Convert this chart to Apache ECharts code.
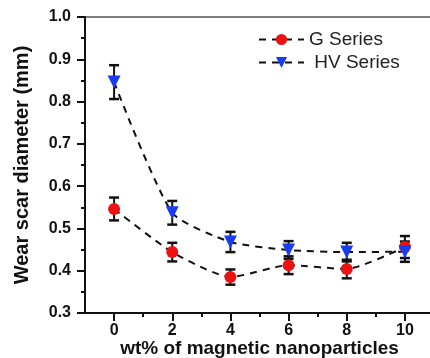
<!DOCTYPE html>
<html>
<head>
<meta charset="utf-8">
<script src="https://cdn.jsdelivr.net/npm/echarts@6/dist/echarts.min.js"></script>
<style>
  html, body { margin: 0; padding: 0; background: #fff; }
  #chart { width: 430px; height: 358px; }
</style>
</head>
<body>
<div id="chart"></div>
<script>
// wt% 磁性纳米颗粒
var loadings = [0, 2, 4, 6, 8, 10];
var gSeries = [0.546, 0.444, 0.385, 0.413, 0.404, 0.456];
var gError = [0.027, 0.022, 0.018, 0.021, 0.022, 0.026];
var hvSeries = [0.846, 0.537, 0.468, 0.449, 0.444, 0.445];
var hvError = [0.040, 0.028, 0.024, 0.021, 0.022, 0.024];
var xMajorTicks = [0, 2, 4, 6, 8, 10];
var xMinorTicks = [1, 3, 5, 7, 9];

var font = 'Liberation Sans, Arial, sans-serif';

function pairs(vals) {
  return loadings.map(function (x, i) { return [x, vals[i]]; });
}
function errRows(vals, errs) {
  return loadings.map(function (x, i) { return [x, vals[i] - errs[i], vals[i] + errs[i]]; });
}

function renderErr(params, api) {
  var x = api.value(0);
  var lo = api.coord([x, api.value(1)]);
  var hi = api.coord([x, api.value(2)]);
  var w = 5;
  var style = { stroke: '#111', lineWidth: 2 };
  var cap = { stroke: '#111', lineWidth: 2.5 };
  return {
    type: 'group',
    children: [
      { type: 'line', shape: { x1: hi[0], y1: hi[1], x2: lo[0], y2: lo[1] }, style: style },
      { type: 'line', shape: { x1: hi[0] - w, y1: hi[1], x2: hi[0] + w, y2: hi[1] }, style: cap },
      { type: 'line', shape: { x1: lo[0] - w, y1: lo[1], x2: lo[0] + w, y2: lo[1] }, style: cap }
    ]
  };
}

var chart = echarts.init(document.getElementById('chart'));
chart.setOption({
  animation: false,
  grid: {
    left: 85, right: -4, top: 17, bottom: 45,
    outerBoundsMode: 'none', containLabel: false,
    show: true, borderColor: '#555', borderWidth: 1.5
  },
  legend: {
    orient: 'vertical',
    left: 253, top: 25,
    itemWidth: 45, itemHeight: 14, itemGap: 4,
    data: ['G Series', ' HV Series'],
    textStyle: { fontFamily: font, fontSize: 19, color: '#222' }
  },
  xAxis: [
    {
      type: 'value', min: -1, max: 11, interval: 1,
      position: 'bottom',
      name: 'wt% of magnetic nanoparticles',
      nameLocation: 'middle', nameGap: 26, nameMoveOverlap: false,
      nameTextStyle: { fontFamily: font, fontSize: 19, fontWeight: 'bold', color: '#111' },
      splitLine: { show: false },
      axisLine: { show: true, onZero: false, lineStyle: { color: '#111', width: 2 } },
      axisTick: { show: true, customValues: xMajorTicks, length: 8, lineStyle: { color: '#111', width: 2 } },
      axisLabel: {
        customValues: xMajorTicks, margin: 10,
        fontFamily: font, fontSize: 16, fontWeight: 'bold', color: '#111'
      }
    },
    {
      type: 'value', min: -1, max: 11, interval: 1,
      position: 'bottom',
      splitLine: { show: false },
      axisLine: { show: false, onZero: false },
      axisTick: { show: true, customValues: xMinorTicks, length: 4, lineStyle: { color: '#111', width: 2 } },
      axisLabel: { show: false }
    }
  ],
  yAxis: {
    type: 'value', min: 0.3, max: 1.0, interval: 0.1,
    name: 'Wear scar diameter (mm)',
    nameLocation: 'middle', nameGap: 53,
    nameTextStyle: { fontFamily: font, fontSize: 20, fontWeight: 'bold', color: '#111' },
    splitLine: { show: false },
    axisLine: { show: true, onZero: false, lineStyle: { color: '#111', width: 2 } },
    axisTick: { show: true, length: 8, lineStyle: { color: '#111', width: 2 } },
    minorTick: { show: true, splitNumber: 2, length: 4, lineStyle: { color: '#111', width: 2 } },
    minorSplitLine: { show: false },
    axisLabel: {
      margin: 14,
      fontFamily: font, fontSize: 16, fontWeight: 'bold', color: '#111',
      formatter: function (v) { return v.toFixed(1); }
    }
  },
  series: [
    {
      type: 'custom', name: 'G err', renderItem: renderErr,
      data: errRows(gSeries, gError), encode: { x: 0, y: [1, 2] }, z: 1
    },
    {
      type: 'custom', name: 'HV err', renderItem: renderErr,
      data: errRows(hvSeries, hvError), encode: { x: 0, y: [1, 2] }, z: 1
    },
    {
      type: 'line', name: 'G Series', data: pairs(gSeries), z: 3,
      smooth: 0.2,
      symbol: 'circle', symbolSize: 12,
      itemStyle: { color: '#ee1111' },
      lineStyle: { color: '#111', width: 2, type: [7, 6] }
    },
    {
      type: 'line', name: ' HV Series', data: pairs(hvSeries), z: 3,
      smooth: 0.2,
      symbol: 'triangle', symbolRotate: 180, symbolSize: 13,
      itemStyle: { color: '#1a3cf0' },
      lineStyle: { color: '#111', width: 2, type: [7, 6] }
    }
  ]
});
</script>
</body>
</html>
